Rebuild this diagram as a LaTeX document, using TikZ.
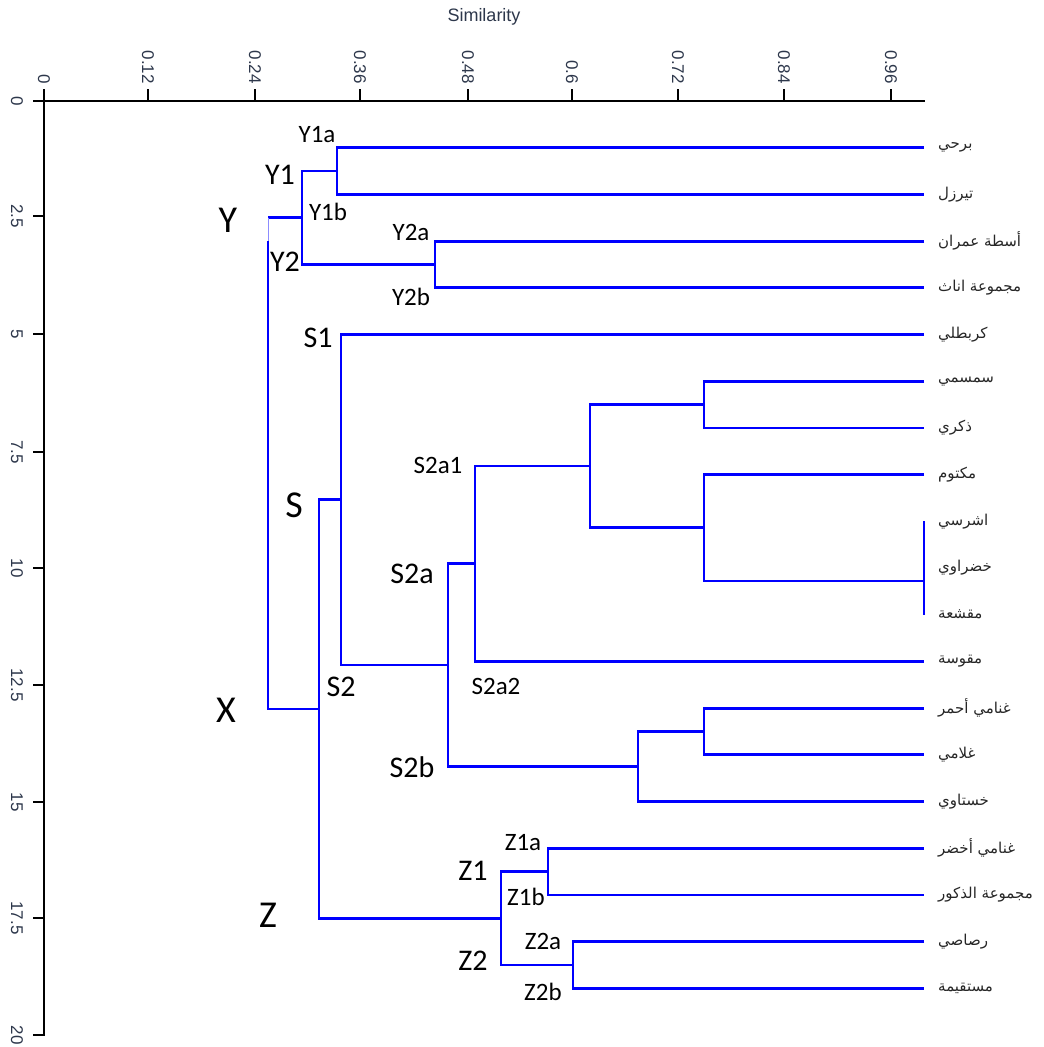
\documentclass[tikz,border=0pt]{standalone}
\usepackage{fontspec}
\setmainfont{Carlito}
\newfontfamily\axisfont{Liberation Sans}
\newfontfamily\arabicfont[Script=Arabic]{DejaVu Sans}
\TeXXeTstate=1
\definecolor{treeblue}{RGB}{0,0,255}
\definecolor{axisgray}{RGB}{45,55,75}
\begin{document}
\begin{tikzpicture}[x=1pt,y=-1pt,
  link/.style={treeblue, line width=2.8pt, line join=miter},
  axisline/.style={black, line width=2.4pt},
  tickmark/.style={black, line width=2pt},
  ticklab/.style={font=\axisfont\fontsize{17}{17}\selectfont, text=axisgray, rotate=-90, inner sep=0pt},
  leaflab/.style={font=\arabicfont\fontsize{15}{16}\selectfont, text=black!85, anchor=west, inner sep=0pt},
  biglab/.style={font=\fontsize{38}{38}\selectfont, inner sep=0pt},
  midlab/.style={font=\fontsize{30}{30}\selectfont, inner sep=0pt},
  smalllab/.style={font=\fontsize{25}{25}\selectfont, inner sep=0pt},
]
\useasboundingbox (0,0) rectangle (1044,1047);

% axes
\node[font=\axisfont\fontsize{18}{18}\selectfont, text=axisgray] (simlab) at (484,17) {Similarity};
\draw[axisline] (36,101) -- (925,101);
\draw[axisline] (44,96) -- (44,1036);
\foreach \x/\t in {44/0,148/0.12,255/0.24,360/0.36,468/0.48,572/0.6,678/0.72,784/0.84,891/0.96}{
  \draw[tickmark] (\x,89) -- (\x,101);
  \node[ticklab, anchor=east] at (\x,84) {\t};
}
\foreach \y/\t in {101/0,216/2.5,334/5,452/7.5,568/10,685/12.5,802/15,918/17.5,1035/20}{
  \draw[tickmark] (33,\y) -- (44,\y);
  \node[ticklab] at (17,\y) {\t};
}

% leaf ends and leaf names
\foreach \k/\name in {
  1/{برحي}, 2/{تيرزل}, 3/{أسطة عمران}, 4/{مجموعة اناث}, 5/{كربطلي},
  6/{سمسمي}, 7/{ذكري}, 8/{مكتوم}, 9/{اشرسي}, 10/{خضراوي},
  11/{مقشعة}, 12/{مقوسة}, 13/{غنامي أحمر}, 14/{غلامي}, 15/{خستاوي},
  16/{غنامي أخضر}, 17/{مجموعة الذكور}, 18/{رصاصي}, 19/{مستقيمة}}{
  \coordinate (e\k) at (924,{101+46.7*\k});
  \node[leaflab] (n\k) at (938,{101+46.7*\k}) {\beginR\name\endR};
}

% merge points
\coordinate (m12)   at (337,171);
\coordinate (m34)   at (435,264.5);
\coordinate (mY)    at (302,217.7);
\coordinate (m67)   at (704,404.5);
\coordinate (m911)  at (924,581);
\coordinate (m8)    at (704,527.8);
\coordinate (m611)  at (590,466);
\coordinate (mS2a1) at (475,563.7);
\coordinate (m1314) at (704,731.5);
\coordinate (m15)   at (638,766.5);
\coordinate (mS2a)  at (448,665);
\coordinate (mS2)   at (341,499.8);
\coordinate (m1617) at (548,871.5);
\coordinate (m1819) at (573,965);
\coordinate (mZ)    at (501,918.2);
\coordinate (mS)    at (319,709);
\coordinate (xa)    at (268,217.7);
\coordinate (xb)    at (268,241);

% dendrogram
\draw[link] (e1) -| (m12) |- (e2);
\draw[link] (e3) -| (m34) |- (e4);
\draw[link] (m12) -| (mY) |- (m34);
\draw[link] (e6) -| (m67) |- (e7);
\draw[link] (e9) -- (e11);
\draw[link] (e8) -| (m8) |- (m911);
\draw[link] (m67) -| (m611) |- (m8);
\draw[link] (m611) -| (mS2a1) |- (e12);
\draw[link] (e13) -| (m1314) |- (e14);
\draw[link] (m1314) -| (m15) |- (e15);
\draw[link] (mS2a1) -| (mS2a) |- (m15);
\draw[link] (e5) -| (mS2) |- (mS2a);
\draw[link] (e16) -| (m1617) |- (e17);
\draw[link] (e18) -| (m1819) |- (e19);
\draw[link] (m1617) -| (mZ) |- (m1819);
\draw[link] (mS2) -| (mS) |- (mZ);
\draw[link] (mY) -- (xa);
\draw[treeblue!45, line width=0.8pt] (xa) -- (xb);
\draw[link] (xb) |- (mS);

% cluster names
\node[biglab] (lY) at (228,220) {Y};
\node[biglab] (lX) at (226,710) {X};
\node[biglab] (lZ) at (268,915) {Z};
\node[biglab] (lS) at (294,505) {S};
\node[midlab] (lY1) at (280,175) {Y1};
\node[midlab] (lY2) at (285,262) {Y2};
\node[smalllab] (lY1a) at (317,135) {Y1a};
\node[smalllab] (lY1b) at (328,212) {Y1b};
\node[smalllab] (lY2a) at (411,232) {Y2a};
\node[smalllab] (lY2b) at (411,297) {Y2b};
\node[midlab] (lS1) at (318,338) {S1};
\node[smalllab] (lS2a1) at (438,465) {S2a1};
\node[midlab] (lS2a) at (412,574) {S2a};
\node[midlab] (lS2) at (341,687) {S2};
\node[smalllab] (lS2a2) at (496,686) {S2a2};
\node[midlab] (lS2b) at (412,767) {S2b};
\node[midlab] (lZ1) at (473,871) {Z1};
\node[midlab] (lZ2) at (473,961) {Z2};
\node[smalllab] (lZ1a) at (523,843) {Z1a};
\node[smalllab] (lZ1b) at (526,897) {Z1b};
\node[smalllab] (lZ2a) at (543,941) {Z2a};
\node[smalllab] (lZ2b) at (543,992) {Z2b};
\end{tikzpicture}
\end{document}
